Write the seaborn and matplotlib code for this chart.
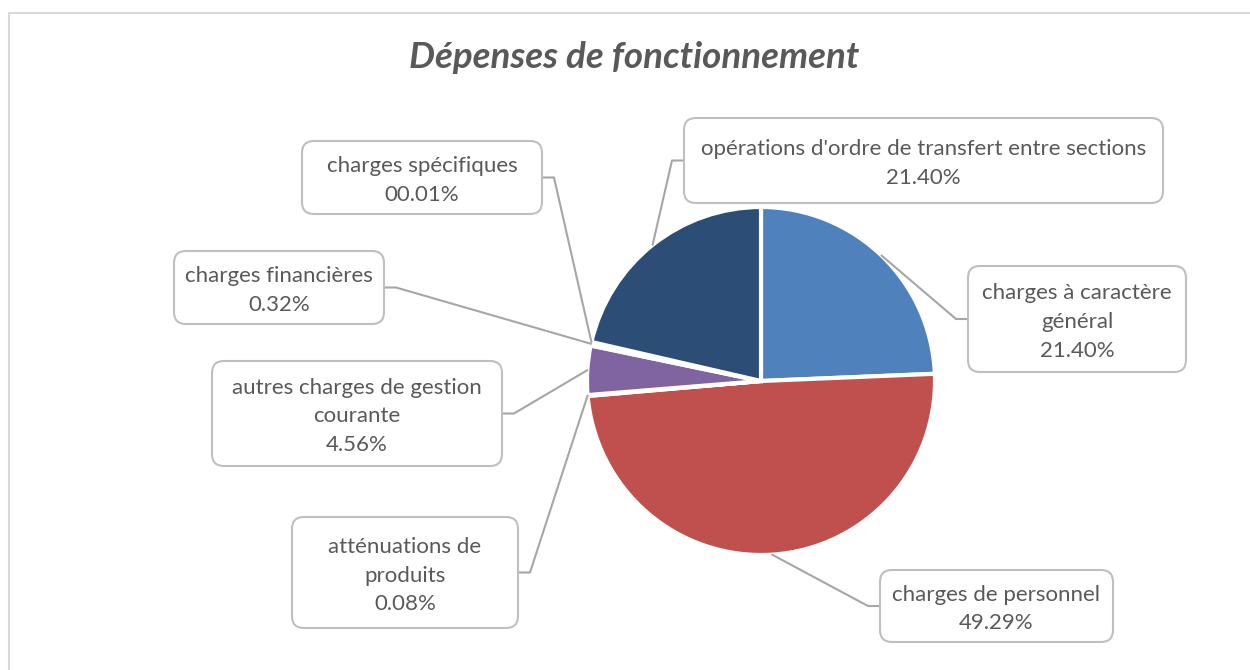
import matplotlib
matplotlib.use("Agg")
import matplotlib.pyplot as plt
import seaborn as sns
import numpy as np
from matplotlib.patches import FancyBboxPatch, Rectangle

# values (the blue label says 21.40% but its slice is ~24.34%)
categories = ["charges à caractère\ngénéral", "charges de personnel", "atténuations de\nproduits",
              "autres charges de gestion\ncourante", "charges financières", "charges spécifiques",
              "opérations d'ordre de transfert entre sections"]
values = [24.34, 49.29, 0.08, 4.56, 0.32, 0.01, 21.40]
pct_labels = ["21.40%", "49.29%", "0.08%", "4.56%", "0.32%", "00.01%", "21.40%"]
colors = ["#4F81BD", "#C0504D", "#9BBB59", "#8064A2", "#4BACC6", "#F79646", "#2C4D75"]

# label box layout in pixels (left, top, right, bottom), y measured from top
boxes = [(968, 266, 1186, 372), (880, 570, 1113, 642), (292, 517, 518, 628),
         (212, 361, 502, 466), (174, 251, 384, 324), (302, 141, 542, 214),
         (684, 118, 1163, 203)]

W, H = 1250, 670
sns.set_theme(style="white")
plt.rcParams["font.family"] = ["Lato", "DejaVu Sans"]
txt_col = "#595959"

fig = plt.figure(figsize=(W / 100, H / 100), dpi=100)
ax = fig.add_axes([0, 0, 1, 1])
ax.set_xlim(0, W)
ax.set_ylim(0, H)
ax.axis("off")

# outer chart border
ax.add_patch(Rectangle((9, -20), W, H - 13 + 20, fill=False, edgecolor="#D9D9D9", lw=1.5))

cx, cy, r = 761, H - 381, 174
wedges, _ = ax.pie(values, colors=colors, startangle=90, counterclock=False,
                   center=(cx, cy), radius=r, normalize=True,
                   wedgeprops=dict(edgecolor="white", linewidth=3))
ax.set_xlim(0, W)
ax.set_ylim(0, H)
ax.set_aspect("equal")

for w, cat, pct, (l, t, rr, b) in zip(wedges, categories, pct_labels, boxes):
    mid = np.deg2rad((w.theta1 + w.theta2) / 2)
    sx, sy = cx + r * np.cos(mid), cy + r * np.sin(mid)
    bt, bb = H - t, H - b
    my = (bt + bb) / 2
    # pick the box side facing the pie
    side = l if sx < l else rr
    ex = side - 12 if side == l else side + 12
    ax.plot([sx, ex, side], [sy, my, my], color="#A6A6A6", lw=1.5, zorder=3)
    ax.add_patch(FancyBboxPatch((l, bb), rr - l, bt - bb,
                                boxstyle="round,pad=0,rounding_size=12",
                                facecolor="white", edgecolor="#BFBFBF", lw=1.5, zorder=4))
    ax.text((l + rr) / 2, my - 3, cat + "\n" + pct, ha="center", va="center",
            fontsize=16, color=txt_col, linespacing=1.55, zorder=5)

ax.text(634, H - 57, "Dépenses de fonctionnement", ha="center", va="center",
        fontsize=26.5, fontweight="bold", fontstyle="italic", color=txt_col)

fig.savefig("out.png", dpi=100)
